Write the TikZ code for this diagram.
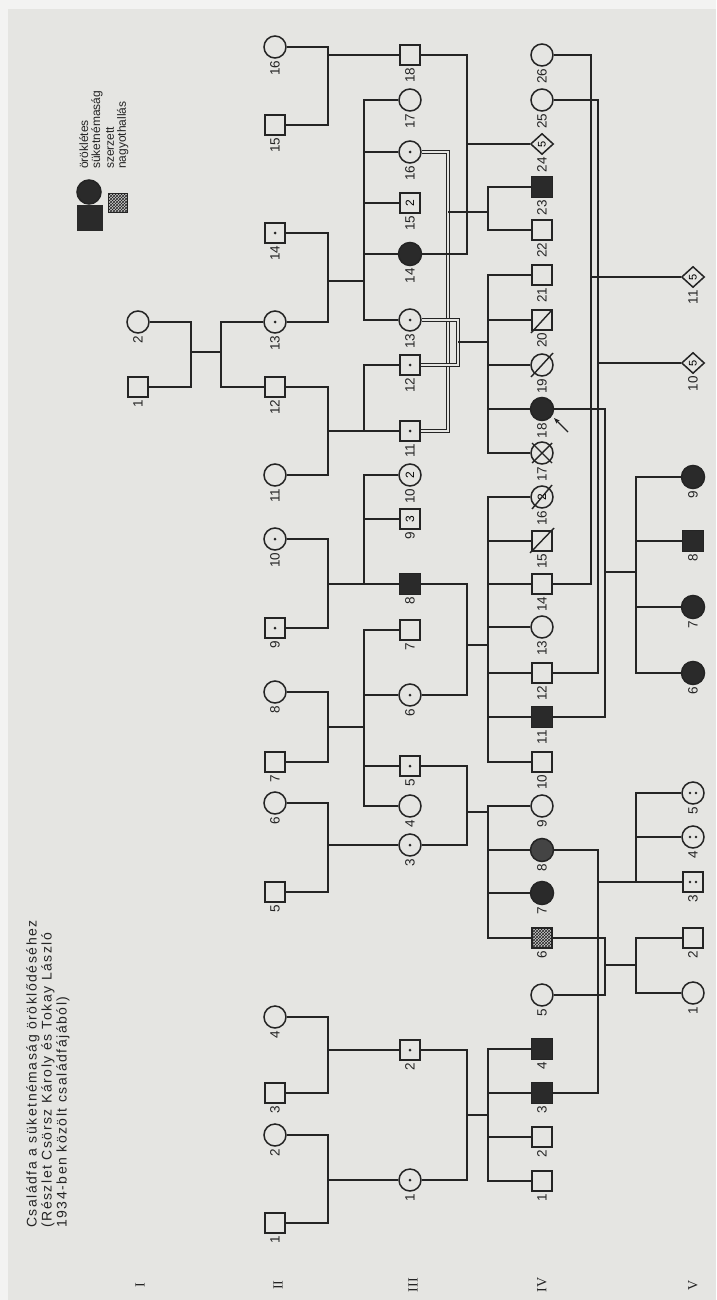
\documentclass[tikz,border=0pt]{standalone}
\usepackage{fontspec}
\usepackage{graphicx}
\setmainfont{Liberation Sans}
\newfontfamily\titlefont[LetterSpace=11]{Liberation Sans}
\newfontfamily\romfont{Liberation Serif}
\usetikzlibrary{shapes.geometric,patterns,calc,arrows.meta}
\definecolor{paper}{RGB}{229,229,226}
\definecolor{ink}{RGB}{36,36,36}
\definecolor{affc}{RGB}{42,42,42}
\definecolor{affl}{RGB}{68,68,68}
\newcommand\psn[6][]{%
  \node[#3] (#2) at (#4,#5) {#1};
  \node[num] (#2l) at ([yshift=-1.5pt]#2.south) {#6};}
\newcommand\rot[1]{\rotatebox{90}{#1}}
\begin{document}
\begin{tikzpicture}[x=1pt,y=-1pt,
  ln/.style={draw=ink, line width=1.5pt},
  dbl/.style={draw=ink, line width=1pt, double=paper, double distance=1.7pt},
  mk/.style={draw=ink, line width=1.4pt},
  sq/.style={draw=ink, line width=1.5pt, rectangle, minimum size=20pt, inner sep=0pt, fill=paper, font=\fontsize{12}{12}\selectfont},
  ci/.style={draw=ink, line width=1.5pt, circle, minimum size=22pt, inner sep=0pt, fill=paper, font=\fontsize{12}{12}\selectfont},
  di/.style={draw=ink, line width=1.5pt, diamond, minimum width=23pt, minimum height=21pt, inner sep=0pt, fill=paper, font=\fontsize{11}{11}\selectfont},
  aff/.style={fill=affc, minimum size=23pt},
  affs/.style={fill=affc, minimum size=21pt},
  affb/.style={fill=affl, minimum size=23pt},
  chk/.style={preaction={fill=gray!40}, pattern=crosshatch, pattern color=ink},
  dot/.style={path picture={\fill[ink] (path picture bounding box.center) circle (1.5pt);}},
  dd/.style={path picture={\fill[ink] ([xshift=-3pt]path picture bounding box.center) circle (1.4pt) ([xshift=3pt]path picture bounding box.center) circle (1.4pt);}},
  num/.style={rotate=90, anchor=east, inner sep=0.5pt, font=\fontsize{13.5}{13.5}\selectfont, text=ink},
  gen/.style={rotate=90, inner sep=0pt, font=\romfont\fontsize{14}{14}\selectfont, text=ink},
]
\useasboundingbox (0,0) rectangle (716,1300);
\fill[paper] (0,0) rectangle (716,1300);
\fill[white!55!paper] (0,0) rectangle (716,9);
\fill[white!55!paper] (0,0) rectangle (8,1300);

% ---------- title and legend ----------
\node[rotate=90, anchor=north west, align=left, inner sep=0pt, text=ink,
  font=\titlefont\fontsize{14}{15}\selectfont] (title) at (26,1228)
  {Családfa a süketnémaság öröklődéséhez\\(Részlet Csörsz Károly és Tokay László\\1934-ben közölt családfájából)};
\node[sq, affc, fill=affc, minimum size=24pt] (legsq) at (90,218) {};
\node[ci, fill=affc, minimum size=24pt] (legci) at (89,192) {};
\node[sq, chk, minimum size=19pt] (legch) at (118,203) {};
\node[rotate=90, anchor=north west, align=left, inner sep=0pt, text=ink,
  font=\fontsize{12}{12}\selectfont] (leg1) at (79,169) {öröklétes\\süketnémaság};
\node[rotate=90, anchor=north west, align=left, inner sep=0pt, text=ink,
  font=\fontsize{12}{12}\selectfont] (leg2) at (106,169) {szerzett\\nagyothallás};

% ---------- generation labels ----------
\node[gen] (gI) at (140,1285) {I};
\node[gen] (gII) at (278,1285) {II};
\node[gen] (gIII) at (413,1285) {III};
\node[gen] (gIV) at (542,1285) {IV};
\node[gen] (gV) at (693,1285) {V};

% ---------- generation I ----------
\psn{I1}{sq}{138}{387}{1}
\psn{I2}{ci}{138}{322}{2}
% ---------- generation II ----------
\psn{II1}{sq}{275}{1223}{1}
\psn{II2}{ci}{275}{1135}{2}
\psn{II3}{sq}{275}{1093}{3}
\psn{II4}{ci}{275}{1017}{4}
\psn{II5}{sq}{275}{892}{5}
\psn{II6}{ci}{275}{803}{6}
\psn{II7}{sq}{275}{762}{7}
\psn{II8}{ci}{275}{692}{8}
\psn{II9}{sq,dot}{275}{628}{9}
\psn{II10}{ci,dot}{275}{539}{10}
\psn{II11}{ci}{275}{475}{11}
\psn{II12}{sq}{275}{387}{12}
\psn{II13}{ci,dot}{275}{322}{13}
\psn{II14}{sq,dot}{275}{233}{14}
\psn{II15}{sq}{275}{125}{15}
\psn{II16}{ci}{275}{47}{16}
% ---------- generation III ----------
\psn{III1}{ci,dot}{410}{1180}{1}
\psn{III2}{sq,dot}{410}{1050}{2}
\psn{III3}{ci,dot}{410}{845}{3}
\psn{III4}{ci}{410}{806}{4}
\psn{III5}{sq,dot}{410}{766}{5}
\psn{III6}{ci,dot}{410}{695}{6}
\psn{III7}{sq}{410}{630}{7}
\psn{III8}{sq,affs}{410}{584}{8}
\psn[\rot{3}]{III9}{sq}{410}{519}{9}
\psn[\rot{2}]{III10}{ci}{410}{475}{10}
\psn{III11}{sq,dot}{410}{431}{11}
\psn{III12}{sq,dot}{410}{365}{12}
\psn{III13}{ci,dot}{410}{320}{13}
\psn{III14}{ci,aff}{410}{254}{14}
\psn[\rot{2}]{III15}{sq}{410}{203}{15}
\psn{III16}{ci,dot}{410}{152}{16}
\psn{III17}{ci}{410}{100}{17}
\psn{III18}{sq}{410}{55}{18}
% ---------- generation IV ----------
\psn{IV1}{sq}{542}{1181}{1}
\psn{IV2}{sq}{542}{1137}{2}
\psn{IV3}{sq,affs}{542}{1093}{3}
\psn{IV4}{sq,affs}{542}{1049}{4}
\psn{IV5}{ci}{542}{995}{5}
\psn{IV6}{sq,chk}{542}{938}{6}
\psn{IV7}{ci,aff}{542}{893}{7}
\psn{IV8}{ci,affb}{542}{850}{8}
\psn{IV9}{ci}{542}{806}{9}
\psn{IV10}{sq}{542}{762}{10}
\psn{IV11}{sq,affs}{542}{717}{11}
\psn{IV12}{sq}{542}{673}{12}
\psn{IV13}{ci}{542}{627}{13}
\psn{IV14}{sq}{542}{584}{14}
\psn{IV15}{sq}{542}{541}{15}
\psn[\rot{2}]{IV16}{ci}{542}{497}{16}
\psn{IV17}{ci}{542}{453}{17}
\psn{IV18}{ci,aff}{542}{409}{18}
\psn{IV19}{ci}{542}{365}{19}
\psn{IV20}{sq}{542}{320}{20}
\psn{IV21}{sq}{542}{275}{21}
\psn{IV22}{sq}{542}{230}{22}
\psn{IV23}{sq,affs}{542}{187}{23}
\psn[\rot{5}]{IV24}{di}{542}{144}{24}
\psn{IV25}{ci}{542}{100}{25}
\psn{IV26}{ci}{542}{55}{26}
% ---------- generation V ----------
\psn{V1}{ci}{693}{993}{1}
\psn{V2}{sq}{693}{938}{2}
\psn{V3}{sq,dd}{693}{882}{3}
\psn{V4}{ci,dd}{693}{837}{4}
\psn{V5}{ci,dd}{693}{793}{5}
\psn{V6}{ci,aff}{693}{673}{6}
\psn{V7}{ci,aff}{693}{607}{7}
\psn{V8}{sq,affs}{693}{541}{8}
\psn{V9}{ci,aff}{693}{477}{9}
\psn[\rot{5}]{V10}{di}{693}{363}{10}
\psn[\rot{5}]{V11}{di}{693}{277}{11}

% ---------- marks ----------
\draw[mk] ($(IV15)+(-12,12)$) -- ($(IV15)+(12,-13)$);
\draw[mk] ($(IV16)+(-10,12)$) -- ($(IV16)+(10,-12)$);
\draw[mk] ($(IV17)+(-10,-10)$) -- ($(IV17)+(10,10)$) ($(IV17)+(-10,10)$) -- ($(IV17)+(10,-10)$);
\draw[mk] ($(IV19)+(-11,12)$) -- ($(IV19)+(11,-12)$);
\draw[mk] ($(IV20)+(-11,13)$) -- ($(IV20)+(10,-10)$);
\coordinate (arrS) at ($(IV18)+(26,23)$);
\draw[ink, line width=1.2pt, -{Stealth[length=6pt,width=4.5pt]}] (arrS) -- ($(IV18)+(12,9)$);

% ---------- couples of generation I ----------
\coordinate (mI) at (191,352); \coordinate (sI) at (221,352);
\draw[ln] (I2.east) -| (mI) |- (I1.east);
\draw[ln] (mI) -- (sI);
\draw[ln] (sI) |- (II12.west);
\draw[ln] (sI) |- (II13.west);

% ---------- couples of generation II ----------
\coordinate (m1516) at (328,55);
\draw[ln] (II16.east) -| (m1516) |- (II15.east);
\draw[ln] (m1516) -- (III18.west);

\coordinate (m1314) at (328,281); \coordinate (s1314) at (364,281);
\draw[ln] (II14.east) -| (m1314) |- (II13.east);
\draw[ln] (m1314) -- (s1314);
\foreach \c in {III13,III14,III15,III16,III17} \draw[ln] (s1314) |- (\c.west);

\coordinate (m1112) at (328,431); \coordinate (s1112) at (364,431);
\draw[ln] (II12.east) -| (m1112) |- (II11.east);
\draw[ln] (m1112) -- (s1112);
\foreach \c in {III11,III12} \draw[ln] (s1112) |- (\c.west);

\coordinate (m910) at (328,584); \coordinate (s910) at (364,584);
\draw[ln] (II10.east) -| (m910) |- (II9.east);
\draw[ln] (m910) -- (s910);
\foreach \c in {III8,III9,III10} \draw[ln] (s910) |- (\c.west);

\coordinate (m78) at (328,727); \coordinate (s78) at (364,727);
\draw[ln] (II8.east) -| (m78) |- (II7.east);
\draw[ln] (m78) -- (s78);
\foreach \c in {III4,III5,III6,III7} \draw[ln] (s78) |- (\c.west);

\coordinate (m56) at (328,845);
\draw[ln] (II6.east) -| (m56) |- (II5.east);
\draw[ln] (m56) -- (III3.west);

\coordinate (m34) at (328,1050);
\draw[ln] (II4.east) -| (m34) |- (II3.east);
\draw[ln] (m34) -- (III2.west);

\coordinate (m12) at (328,1180);
\draw[ln] (II2.east) -| (m12) |- (II1.east);
\draw[ln] (m12) -- (III1.west);

% ---------- couples of generation III ----------
\coordinate (n12) at (467,1115); \coordinate (t12) at (488,1115);
\draw[ln] (III2.east) -| (n12) |- (III1.east);
\draw[ln] (n12) -- (t12);
\foreach \c in {IV1,IV2,IV3,IV4} \draw[ln] (t12) |- (\c.west);

\coordinate (n35) at (467,812); \coordinate (t35) at (488,812);
\draw[ln] (III5.east) -| (n35) |- (III3.east);
\draw[ln] (n35) -- (t35);
\foreach \c in {IV6,IV7,IV8,IV9} \draw[ln] (t35) |- (\c.west);

\coordinate (n68) at (467,645); \coordinate (t68) at (488,645);
\draw[ln] (III8.east) -| (n68) |- (III6.east);
\draw[ln] (n68) -- (t68);
\foreach \c in {IV10,IV11,IV12,IV13,IV14,IV15,IV16} \draw[ln] (t68) |- (\c.west);

\coordinate (n1116) at (448,212); \coordinate (t1116) at (488,212);
\draw[dbl] (III16.east) -| (n1116) |- (III11.east);
\draw[ln] (n1116) -- (t1116);
\foreach \c in {IV22,IV23} \draw[ln] (t1116) |- (\c.west);

\coordinate (n1213) at (458,342); \coordinate (t1213) at (488,342);
\draw[dbl] (III13.east) -| (n1213) |- (III12.east);
\draw[ln] (n1213) -- (t1213);
\foreach \c in {IV17,IV18,IV19,IV20,IV21} \draw[ln] (t1213) |- (\c.west);

\coordinate (n1418) at (467,144);
\draw[ln] (III18.east) -| (n1418) |- (III14.east);
\draw[ln] (n1418) -- (IV24.west);

% ---------- couples of generation IV ----------
\coordinate (p1426) at (591,277);
\draw[ln] (IV26.east) -| (p1426) |- (IV14.east);
\draw[ln] (p1426) -- (V11.west);

\coordinate (p1225) at (598,363);
\draw[ln] (IV25.east) -| (p1225) |- (IV12.east);
\draw[ln] (p1225) -- (V10.west);

\coordinate (p1118) at (605,572); \coordinate (q1118) at (636,572);
\draw[ln] (IV18.east) -| (p1118) |- (IV11.east);
\draw[ln] (p1118) -- (q1118);
\foreach \c in {V6,V7,V8,V9} \draw[ln] (q1118) |- (\c.west);

\coordinate (p38) at (598,882); \coordinate (q38) at (636,882);
\draw[ln] (IV8.east) -| (p38) |- (IV3.east);
\draw[ln] (p38) -- (q38);
\foreach \c in {V3,V4,V5} \draw[ln] (q38) |- (\c.west);

\coordinate (p56) at (605,965); \coordinate (q56) at (636,965);
\draw[ln] (IV6.east) -| (p56) |- (IV5.east);
\draw[ln] (p56) -- (q56);
\foreach \c in {V1,V2} \draw[ln] (q56) |- (\c.west);
\end{tikzpicture}
\end{document}
